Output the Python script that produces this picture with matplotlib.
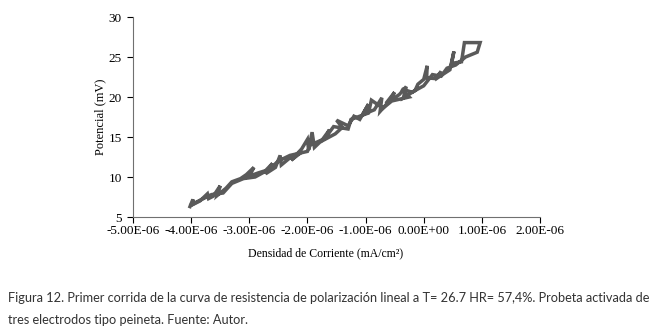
import matplotlib
matplotlib.use("Agg")
from matplotlib import pyplot as plt
from matplotlib.ticker import FuncFormatter, MultipleLocator

# current density (x 1e-6 mA/cm2) and potential (mV)
densidad = [-4.02, -3.97, -3.96, -3.85, -3.72, -3.70, -3.62, -3.50, -3.55, -3.40,
            -3.30, -3.15, -3.05, -2.92, -3.00, -2.85, -2.72, -2.60, -2.72, -2.55,
            -2.47, -2.45, -2.30, -2.12, -2.28, -2.10, -2.00, -1.98, -1.92, -1.88,
            -1.75, -1.62, -1.70, -1.52, -1.40, -1.50, -1.30, -1.20, -1.10, -0.95,
            -1.05, -0.85, -0.72, -0.75, -0.58, -0.50, -0.65, -0.42, -0.30, -0.35,
            -0.15, -0.10, 0.00, 0.06, 0.05, 0.20, 0.30, 0.26, 0.45, 0.52,
            0.48, 0.65, 0.70, 0.97, 0.92, 0.72, 0.55, 0.40, 0.30, 0.15,
            0.00, -0.20, -0.38, -0.25, -0.55, -0.70, -0.90, -0.95, -1.25, -1.30,
            -1.55, -1.70, -1.95, -2.00, -2.30, -2.50, -2.65, -2.90, -3.10, -3.30,
            -3.45, -3.65, -3.90, -4.00]
potencial = [6.3, 7.2, 6.6, 7.0, 7.9, 7.3, 7.6, 8.9, 7.7, 8.6,
             9.4, 9.8, 10.3, 11.2, 10.1, 10.5, 10.8, 11.7, 10.4, 11.2,
             12.7, 11.5, 12.4, 13.0, 12.1, 13.5, 14.7, 13.4, 15.6, 13.7,
             14.6, 15.9, 14.7, 15.4, 16.2, 17.1, 16.4, 17.6, 17.2, 19.1,
             17.8, 18.4, 19.9, 18.2, 19.6, 20.6, 19.2, 20.3, 21.3, 19.9,
             20.8, 21.6, 22.2, 23.9, 22.4, 22.3, 23.2, 22.5, 23.4, 25.7,
             24.2, 24.4, 26.8, 26.8, 25.6, 25.0, 24.0, 23.6, 22.6, 22.8,
             21.4, 20.6, 21.0, 20.0, 19.5, 18.6, 19.6, 18.0, 17.2, 16.0,
             16.3, 14.8, 14.0, 13.2, 12.7, 12.0, 11.0, 10.0, 9.8, 9.2,
             8.0, 7.8, 6.9, 6.5]

fig = plt.figure(figsize=(6.56, 3.32), dpi=100)
ax = fig.add_axes([133 / 656, 1 - 217 / 332, (540 - 133) / 656, (217 - 17) / 332])

ax.plot([d * 1e-6 for d in densidad], potencial, color="#5a5a5a", lw=2.5,
        solid_joinstyle="miter")

ax.set_xlim(-5e-6, 2e-6)
ax.set_ylim(5, 30)
ax.xaxis.set_major_locator(MultipleLocator(1e-6))
ax.yaxis.set_major_locator(MultipleLocator(5))
ax.xaxis.set_major_formatter(FuncFormatter(lambda v, p: "%.2E" % (round(v * 1e6) / 1e6)))

serif = "Liberation Serif"
for lab in ax.get_xticklabels() + ax.get_yticklabels():
    lab.set_family(serif)
    lab.set_fontsize(9.5)
ax.tick_params(axis="both", direction="out", length=4, width=0.8, colors="black")
ax.tick_params(axis="x", pad=2)
ax.tick_params(axis="y", pad=4)

ax.spines["top"].set_visible(False)
ax.spines["right"].set_visible(False)
ax.spines["left"].set_color("#707070")
ax.spines["bottom"].set_color("#707070")

ax.set_xlabel("Densidad de Corriente (mA/cm²)", family=serif, fontsize=8.5)
ax.set_ylabel("Potencial (mV)", family=serif, fontsize=9)
ax.xaxis.set_label_coords(0.472, -0.15)
ax.yaxis.set_label_coords(-0.065, 0.5)

cap = ("Figura 12. Primer corrida de la curva de resistencia de polarización lineal a T= 26.7 HR= 57,4%. Probeta activada de\n"
       "tres electrodos tipo peineta. Fuente: Autor.")
fig.text(8 / 656, 1 - 292 / 332, cap, family="Lato", fontsize=9.15, color="#333333",
         va="top", ha="left", linespacing=2.0)

fig.savefig("out.png", dpi=100)
